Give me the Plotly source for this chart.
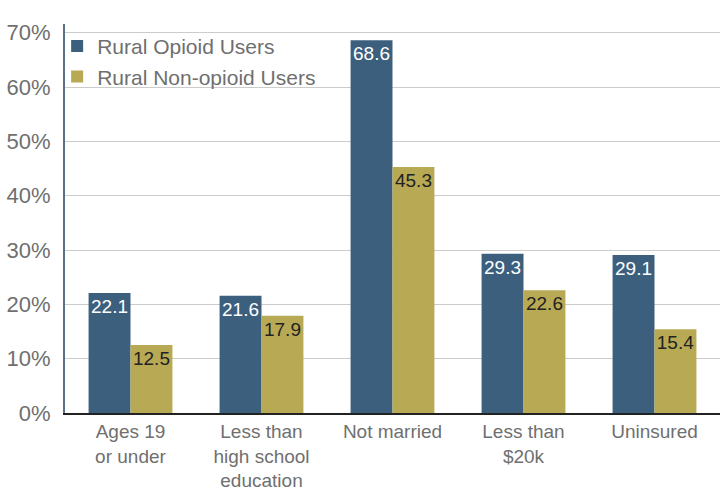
import plotly.graph_objects as go

categories = ["Ages 19<br>or under", "Less than<br>high school<br>education", "Not married", "Less than<br>$20k", "Uninsured"]
opioid = [22.1, 21.6, 68.6, 29.3, 29.1]
non_opioid = [12.5, 17.9, 45.3, 22.6, 15.4]
tick_vals = [0, 10, 20, 30, 40, 50, 60, 70]
tick_text = ["0%", "10%", "20%", "30%", "40%", "50%", "60%", "70%"]

FONT = "Liberation Sans, Arial, sans-serif"

fig = go.Figure()
fig.add_trace(go.Bar(
    x=categories, y=opioid, name="Rural Opioid Users",
    marker=dict(color="#3d5f7e", line=dict(width=0)),
    text=[f"{v:.1f}" for v in opioid], textposition="inside", insidetextanchor="end",
    textangle=0, constraintext="none",
    textfont=dict(color="white", size=19, family=FONT),
))
fig.add_trace(go.Bar(
    x=categories, y=non_opioid, name="Rural Non-opioid Users",
    marker=dict(color="#b8aa55", line=dict(width=0)),
    text=[f"{v:.1f}" for v in non_opioid], textposition="inside", insidetextanchor="end",
    textangle=0, constraintext="none",
    textfont=dict(color="#222222", size=19, family=FONT),
))

fig.update_layout(
    width=721, height=492,
    margin=dict(l=65, r=1, t=24, b=79),
    paper_bgcolor="white", plot_bgcolor="white",
    barmode="group", bargap=0.36, bargroupgap=0,
    font=dict(family=FONT, color="#6f6f6f", size=21),
    showlegend=True,
    legend=dict(x=-0.012, y=0.995, xanchor="left", yanchor="top",
                font=dict(size=21, color="#6f6f6f", family=FONT),
                bgcolor="rgba(0,0,0,0)", itemsizing="constant",
                tracegroupgap=0),
    xaxis=dict(showgrid=False, showline=True, linecolor="#222222", linewidth=2,
               ticks="", automargin=False, ticklabelstandoff=0,
               tickfont=dict(size=19, color="#6f6f6f")),
    yaxis=dict(range=[0, 71.6], tickvals=tick_vals, ticktext=tick_text,
               showgrid=True, gridcolor="#cccccc", gridwidth=1,
               showline=True, linecolor="#5a7088", linewidth=2,
               zeroline=False, ticks="", ticklabelstandoff=8, automargin=False,
               tickfont=dict(size=22, color="#6f6f6f")),
)

fig.write_html("out.html", config={"displayModeBar": False},
               post_script="document.body.style.margin='0';")
